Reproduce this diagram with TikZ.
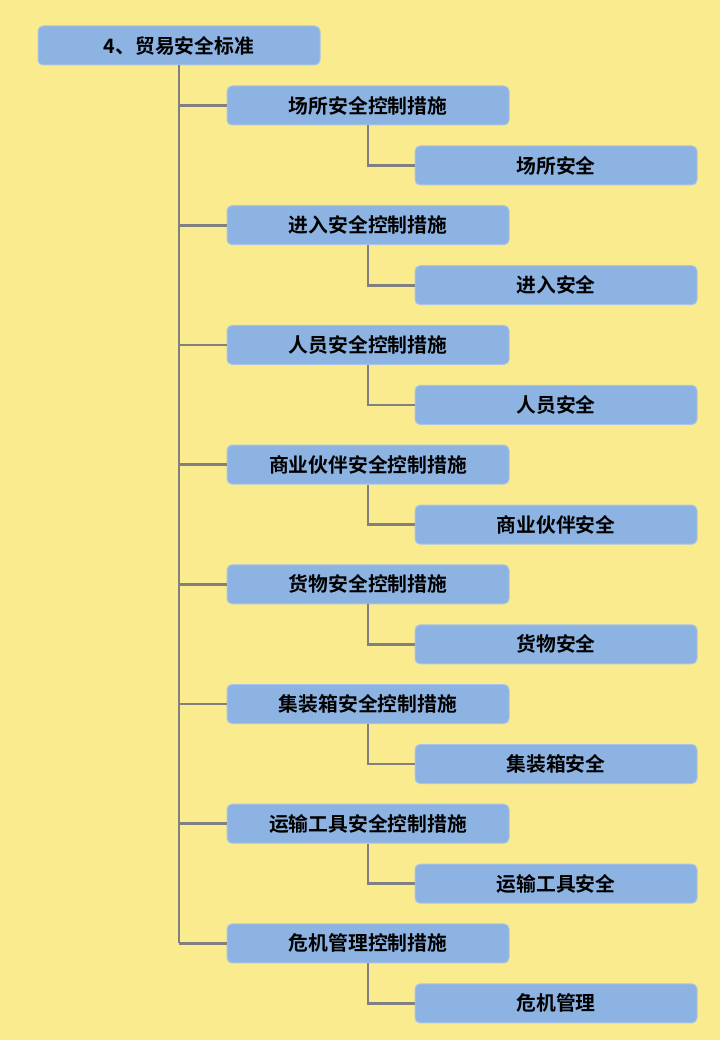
\documentclass[tikz,border=0pt]{standalone}
\usepackage{fontspec}
\newfontfamily\cjk{Noto Sans CJK SC}[BoldFont={Noto Sans CJK SC Bold}]
\begin{document}
\begin{tikzpicture}[x=1pt,y=-1pt,
  box/.style={draw=boxline,fill=boxfill,rounded corners=5pt,line width=1pt,
    minimum width=282pt,minimum height=39pt,inner sep=0pt,
    font=\cjk\bfseries\fontsize{19.8}{21}\selectfont,text=black},
  conn/.style={draw=linegray,line width=2.8pt}]
\definecolor{bg}{HTML}{FAEB8F}
\definecolor{boxfill}{HTML}{8DB3E2}
\definecolor{boxline}{HTML}{A9C4E8}
\definecolor{linegray}{HTML}{808080}
\fill[bg] (0,0) rectangle (720,1040);
\useasboundingbox (0,0) rectangle (720,1040);
\node[box] (root) at (179,45.5) {4、贸易安全标准};
\coordinate (trunkend) at (179,943);
\draw[conn] (root.south) -- (trunkend);
\foreach \i/\a/\b in {0/场所安全控制措施/场所安全,
  1/进入安全控制措施/进入安全,
  2/人员安全控制措施/人员安全,
  3/商业伙伴安全控制措施/商业伙伴安全,
  4/货物安全控制措施/货物安全,
  5/集装箱安全控制措施/集装箱安全,
  6/运输工具安全控制措施/运输工具安全,
  7/危机管理控制措施/危机管理}{
  \pgfmathsetmacro{\yy}{105.5+119.7*\i}
  \node[box] (m\i) at (368,\yy) {\a};
  \node[box] (s\i) at (556,\yy+60) {\b};
  \coordinate (t\i) at (179,\yy);
  \draw[conn] (t\i) -- (m\i.west);
  \draw[conn] (m\i.south) |- (s\i.west);
}
\end{tikzpicture}
\end{document}
